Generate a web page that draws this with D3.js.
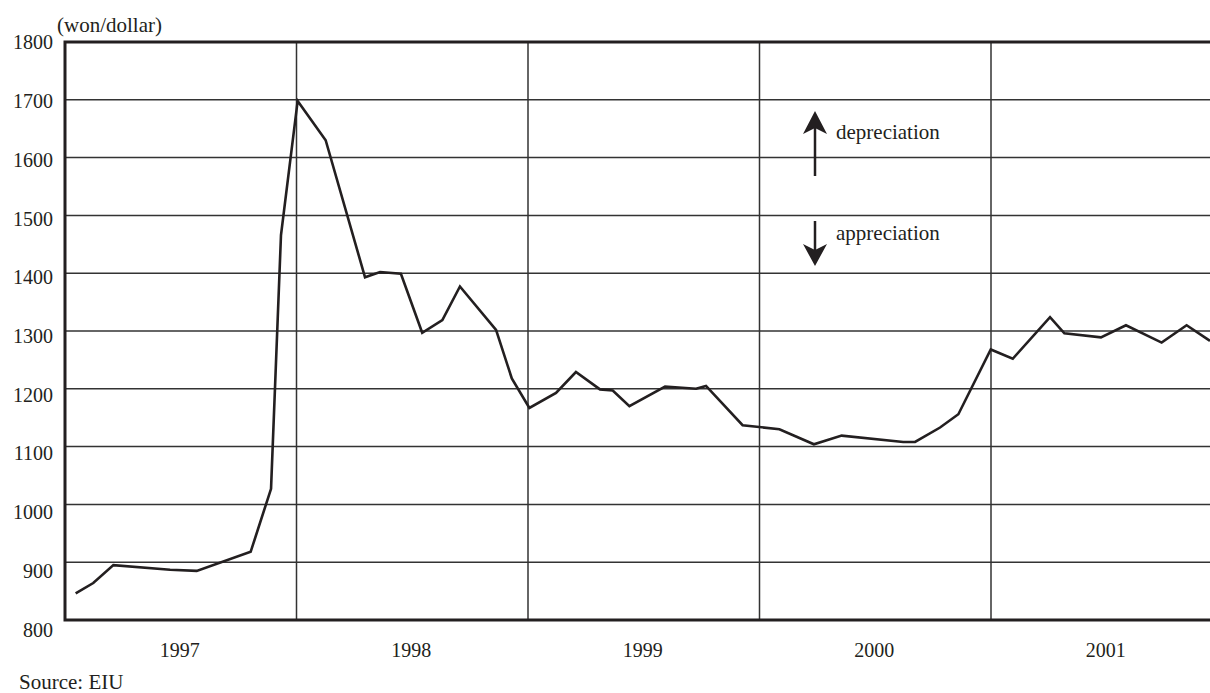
<!DOCTYPE html>
<html>
<head>
<meta charset="utf-8">
<script src="https://cdn.jsdelivr.net/npm/d3@7"></script>
<style>
  html, body { margin: 0; padding: 0; background: #fff; }
  svg { display: block; }
</style>
</head>
<body>
<svg id="chart" width="1210" height="693"></svg>
<script>
// ---- data ----
const dates = [1997.046, 1997.122, 1997.209, 1997.454, 1997.569, 1997.802, 1997.890, 1997.933,
  1998.005, 1998.126, 1998.296, 1998.361, 1998.451, 1998.543, 1998.630, 1998.706, 1998.862, 1998.930,
  1999.006, 1999.121, 1999.207, 1999.311, 1999.366, 1999.438, 1999.592, 1999.726, 1999.769, 1999.927,
  2000.086, 2000.235, 2000.355, 2000.621, 2000.672, 2000.780, 2000.859, 2000.999,
  2001.094, 2001.255, 2001.317, 2001.475, 2001.583, 2001.737, 2001.845, 2001.946];
const rates = [846, 864, 895, 887, 885, 918, 1027, 1466,
  1698, 1630, 1393, 1402, 1399, 1297, 1319, 1377, 1302, 1218,
  1167, 1193, 1229, 1199, 1197, 1170, 1204, 1200, 1205, 1137,
  1130, 1104, 1119, 1108, 1108, 1133, 1156, 1268,
  1252, 1324, 1296, 1289, 1310, 1280, 1310, 1283];
const yearLabels = ["1997", "1998", "1999", "2000", "2001"];
const yTicks = [800, 900, 1000, 1100, 1200, 1300, 1400, 1500, 1600, 1700, 1800];
const unitLabel = "(won/dollar)";
const sourceLabel = "Source: EIU";
const upLabel = "depreciation";
const downLabel = "appreciation";

// ---- layout ----
const FONT = "'Liberation Serif', 'Times New Roman', 'DejaVu Serif', serif";
const svg = d3.select("#chart").attr("font-family", FONT);
const mLeft = 65, mTop = 42, mBottom = 620, yearW = 231.5;
const x = d3.scaleLinear().domain([1997, 2002]).range([mLeft, mLeft + 5 * yearW]);
const y = d3.scaleLinear().domain([800, 1800]).range([mBottom, mTop]);
// tick labels in the reference sit on a slightly wider spacing than the grid
const yLab = d3.scaleLinear().domain([800, 1800]).range([636.7, 49.3]);
const ink = "#231f20";

function label(sel, size) {
  return sel.attr("font-family", FONT).attr("font-size", size || 20).attr("fill", ink);
}

// horizontal grid
svg.append("g").selectAll("line").data(yTicks.filter(v => v > 800 && v < 1800)).join("line")
  .attr("x1", mLeft).attr("x2", 1210)
  .attr("y1", d => y(d)).attr("y2", d => y(d))
  .attr("stroke", "#333").attr("stroke-width", 1.5);

// vertical year lines
const yearStarts = yearLabels.map(s => +s);
svg.append("g").selectAll("line").data(yearStarts.slice(1)).join("line")
  .attr("x1", d => x(d)).attr("x2", d => x(d))
  .attr("y1", mTop).attr("y2", mBottom)
  .attr("stroke", "#333").attr("stroke-width", 1.5);

// frame: left, top, bottom
svg.append("path")
  .attr("d", `M1212,${y(1800)} H${x(1997)} V${y(800)} H1212`)
  .attr("fill", "none").attr("stroke", ink).attr("stroke-width", 3);

// data line
const line = d3.line().x((d, i) => x(dates[i])).y(d => y(d));
svg.append("path").datum(rates)
  .attr("d", line)
  .attr("fill", "none").attr("stroke", ink).attr("stroke-width", 2.6)
  .attr("stroke-linejoin", "miter");

// y tick labels
label(svg.append("g").selectAll("text").data(yTicks).join("text"))
  .attr("x", 53).attr("y", d => yLab(d))
  .attr("text-anchor", "end")
  .text(d => d);

// year labels centred in each year
label(svg.append("g").selectAll("text").data(yearLabels).join("text"))
  .attr("x", d => x(+d + 0.5) - 1).attr("y", 656.5)
  .attr("text-anchor", "middle")
  .text(d => d);

label(svg.append("text"), 21).attr("x", 57).attr("y", 32).text(unitLabel);
label(svg.append("text"), 21).attr("x", 19).attr("y", 689).text(sourceLabel);

// arrows
const ax = 815;
svg.append("line").attr("x1", ax).attr("x2", ax).attr("y1", 176).attr("y2", 128)
  .attr("stroke", ink).attr("stroke-width", 2.5);
svg.append("path").attr("d", `M${ax},111 L${ax + 12},134 L${ax},128 L${ax - 12},134 Z`).attr("fill", ink);
svg.append("line").attr("x1", ax).attr("x2", ax).attr("y1", 221).attr("y2", 250)
  .attr("stroke", ink).attr("stroke-width", 2.5);
svg.append("path").attr("d", `M${ax},266 L${ax + 12},244 L${ax},250 L${ax - 12},244 Z`).attr("fill", ink);
label(svg.append("text"), 21).attr("x", 836).attr("y", 138.5).text(upLabel);
label(svg.append("text"), 21).attr("x", 836).attr("y", 240).text(downLabel);
</script>
</body>
</html>
